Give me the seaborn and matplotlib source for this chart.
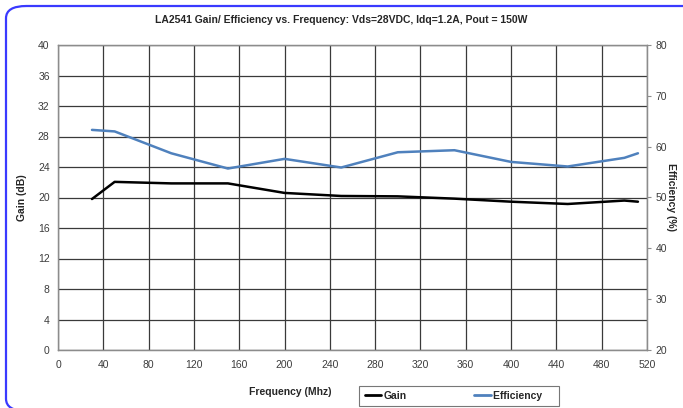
import numpy as np
import pandas as pd
import matplotlib
matplotlib.use('Agg')
import matplotlib.pyplot as plt
import seaborn as sns
from matplotlib.patches import FancyBboxPatch
from matplotlib.lines import Line2D

freq = [30, 50, 100, 150, 200, 250, 300, 350, 400, 450, 500, 512]
gain = [19.8, 22.05, 21.85, 21.85, 20.6, 20.2, 20.15, 19.85, 19.45, 19.15, 19.6, 19.45]
efficiency = [63.3, 63.0, 58.7, 55.7, 57.6, 55.9, 58.9, 59.3, 57.0, 56.1, 57.8, 58.7]

x_ticks = list(range(0, 521, 40))
gain_ticks = list(range(0, 41, 4))
eff_ticks = list(range(20, 81, 10))

df = pd.DataFrame({'Frequency': freq, 'Gain': gain, 'Efficiency': efficiency})

sns.set_style('white')
plt.rcParams['font.family'] = ['Liberation Sans', 'DejaVu Sans']

fig = plt.figure(figsize=(6.83, 4.08), dpi=100)
ax = fig.add_axes([58 / 683, 1 - 350 / 408, (647 - 58) / 683, (350 - 45) / 408])
ax2 = ax.twinx()

grid_c = '#3a3a3a'
sns.lineplot(data=df, x='Frequency', y='Gain', ax=ax, color='black', linewidth=1.8)
sns.lineplot(data=df, x='Frequency', y='Efficiency', ax=ax2, color='#4f81bd', linewidth=1.8)

ax.set_xlim(0, 520)
ax.set_ylim(0, 40)
ax2.set_ylim(20, 80)
ax.set_xticks(x_ticks)
ax.set_yticks(gain_ticks)
ax2.set_yticks(eff_ticks)
ax.grid(True, color=grid_c, linewidth=0.9)
ax.set_axisbelow(True)

for a in (ax, ax2):
    for s in a.spines.values():
        s.set_color('#8c8c8c')
        s.set_linewidth(0.9)

ax.tick_params(axis='both', labelsize=7.5, colors='#3c3c3c', length=0, pad=6)
ax.tick_params(axis='x', length=3, color='#8c8c8c', direction='out', pad=4)
ax2.tick_params(axis='y', labelsize=7.5, colors='#3c3c3c', length=3, color='#8c8c8c', pad=3)

ax.set_xlabel('Frequency (Mhz)', fontsize=7.5, fontweight='bold')
ax.xaxis.set_label_coords(0.395, -0.12)
ax.set_ylabel('Gain (dB)', fontsize=7.5, fontweight='bold', labelpad=8)
ax2.set_ylabel('Efficiency (%)', fontsize=7.5, fontweight='bold', rotation=270, va='bottom')
ax2.yaxis.set_label_coords(1.032, 0.5)

fig.suptitle('LA2541 Gain/ Efficiency vs. Frequency: Vds=28VDC, Idq=1.2A, Pout = 150W',
             fontsize=7.5, fontweight='bold', y=1 - 20 / 408, va='center')

handles = [Line2D([], [], color='black', linewidth=2),
           Line2D([], [], color='#4f81bd', linewidth=2)]
leg = fig.legend(handles, ['Gain', 'Efficiency'], loc='center',
                 bbox_to_anchor=(459 / 683, 1 - 396 / 408), ncol=2,
                 frameon=True, fancybox=False, edgecolor='#555555', handlelength=1.6,
                 handletextpad=0.2, columnspacing=6.5, borderpad=0.5, borderaxespad=0,
                 prop={'weight': 'bold', 'size': 7.5})
leg.get_frame().set_linewidth(0.8)
# pad the frame out to the width of the original box
for t in leg.get_texts()[-1:]:
    t.set_text('Efficiency    ')

# rounded outer frame, open to the right and bottom like the original
border = FancyBboxPatch((6 / 683, -3 / 408), 0.1 + 677 / 683, 1 - 3 / 408,
                        boxstyle='round,pad=0,rounding_size=0.03',
                        transform=fig.transFigure, fill=False,
                        edgecolor='#3a3aff', linewidth=1.6, clip_on=False)
fig.patches.append(border)

fig.savefig('out.png', dpi=100)
